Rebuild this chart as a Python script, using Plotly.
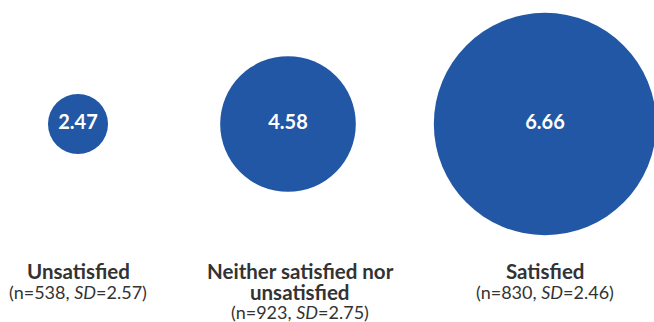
import plotly.graph_objects as go

# ---- data ----
categories = ["Unsatisfied", "Neither satisfied nor<br>unsatisfied", "Satisfied"]
means = [2.47, 4.58, 6.66]
ns = [538, 923, 830]
sds = [2.57, 2.75, 2.46]

# ---- layout / style ----
W, H = 654, 322
col_centers_px = [78, 288, 545]      # column centres in px
label_shift_px = [0, 12, 0]
circle_cy_px = 124
BLUE = "#2257a5"
GREY = "#333333"
FONT = "Lato"

def size_px(v):
    return 18.2 * v ** 1.32

fig = go.Figure()
annotations = []
for i, (cat, m, n, sd) in enumerate(zip(categories, means, ns, sds)):
    cx = col_centers_px[i] / W
    half = 0.1
    ax = "" if i == 0 else str(i + 1)
    fig.add_trace(go.Scatter(
        x=[0], y=[0], mode="markers+text",
        xaxis="x" + ax, yaxis="y" + ax,
        marker=dict(size=size_px(m), color=BLUE, line=dict(width=0), opacity=1),
        text=[f"<b>{m:.2f}</b>"], textposition="middle center",
        textfont=dict(family=FONT, size=20, color="white"),
        hoverinfo="skip", cliponaxis=False, showlegend=False,
    ))
    fig.layout["xaxis" + ax] = dict(domain=[cx - half, cx + half], range=[-1, 1],
                                   visible=False, fixedrange=True)
    cy = 1 - circle_cy_px / H
    fig.layout["yaxis" + ax] = dict(domain=[cy - 0.3, cy + 0.3], range=[-1, 1],
                                   visible=False, fixedrange=True)
    lx = (col_centers_px[i] + label_shift_px[i]) / W
    lines = cat.split("<br>")
    for k, line in enumerate(lines):
        annotations.append(dict(
            x=lx, y=1 - (271 + 20.5 * k) / H, xref="paper", yref="paper",
            xanchor="center", yanchor="middle", showarrow=False,
            text=f"<b>{line}</b>", align="center",
            font=dict(family=FONT, size=20.5, color=GREY)))
    stat_center = 292 if len(lines) == 1 else 312
    annotations.append(dict(
        x=lx, y=1 - stat_center / H, xref="paper", yref="paper",
        xanchor="center", yanchor="middle", showarrow=False,
        text=f"(n={n}, <i>SD</i>={sd:.2f})", align="center",
        font=dict(family=FONT, size=18, color=GREY)))

fig.update_layout(
    width=W, height=H,
    margin=dict(l=0, r=0, t=0, b=0),
    paper_bgcolor="white", plot_bgcolor="white",
    annotations=annotations,
    font=dict(family=FONT),
)
fig.write_html("out.html", config={"displayModeBar": False})
